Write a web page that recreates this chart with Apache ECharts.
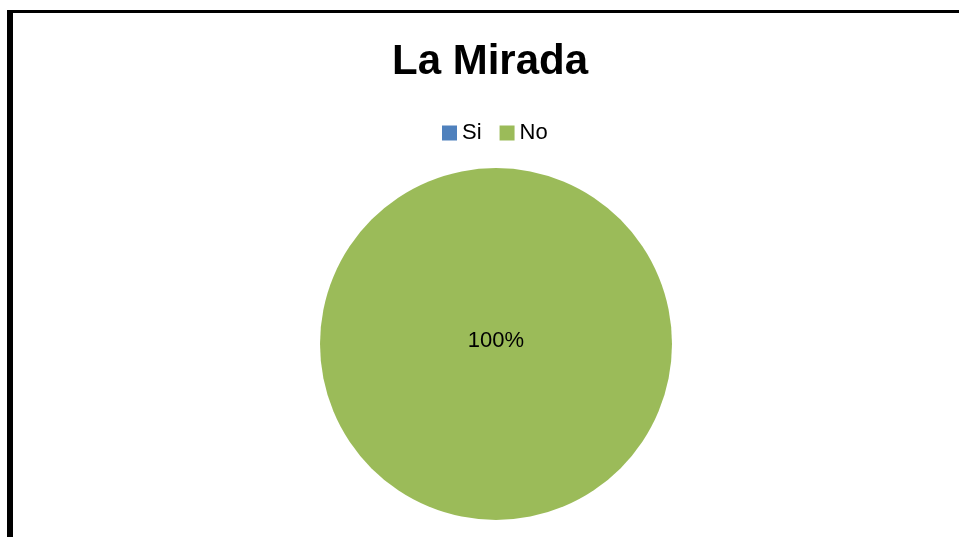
<!DOCTYPE html>
<html>
<head>
<meta charset="utf-8">
<script src="https://cdn.jsdelivr.net/npm/echarts@6/dist/echarts.min.js"></script>
<style>
  html, body { margin: 0; padding: 0; background: #fff; }
  #wrap { position: relative; width: 959px; height: 537px; overflow: hidden; }
  #frame {
    position: absolute; left: 7px; top: 10px; width: 1000px; height: 600px;
    border-left: 6px solid #000; border-top: 3px solid #000;
  }
  #chart { position: absolute; left: 0; top: 0; width: 959px; height: 537px; }
</style>
</head>
<body>
<div id="wrap">
  <div id="frame"></div>
  <div id="chart"></div>
</div>
<script>
const categories = ["Si", "No"];
const values = [0, 100];
const colors = ["#4F81BD", "#9BBB59"];

const chart = echarts.init(document.getElementById("chart"));

chart.setOption({
  animation: false,
  title: {
    text: "La Mirada",
    left: 490,
    textAlign: "center",
    top: 41,
    padding: 0,
    textStyle: {
      fontFamily: "Liberation Sans",
      fontWeight: "bold",
      fontSize: 42,
      color: "#000"
    }
  },
  legend: {
    data: categories,
    left: 442,
    top: 122,
    padding: 0,
    icon: "rect",
    itemWidth: 15,
    itemHeight: 15,
    itemGap: 18,
    textStyle: { fontFamily: "Liberation Sans", fontSize: 22, color: "#000" }
  },
  series: [
    {
      type: "pie",
      center: [496, 344],
      radius: 176,
      startAngle: 90,
      clockwise: true,
      stillShowZeroSum: false,
      label: {
        show: true,
        position: "center",
        formatter: "{d}%",
        fontFamily: "Liberation Sans",
        fontSize: 22,
        color: "#000",
        offset: [0, -3]
      },
      labelLine: { show: false },
      emphasis: { disabled: true },
      itemStyle: { borderWidth: 0 },
      data: categories.map((name, i) => ({
        name: name,
        value: values[i],
        itemStyle: { color: colors[i] },
        label: { show: values[i] > 0 }
      }))
    }
  ]
});
</script>
</body>
</html>
